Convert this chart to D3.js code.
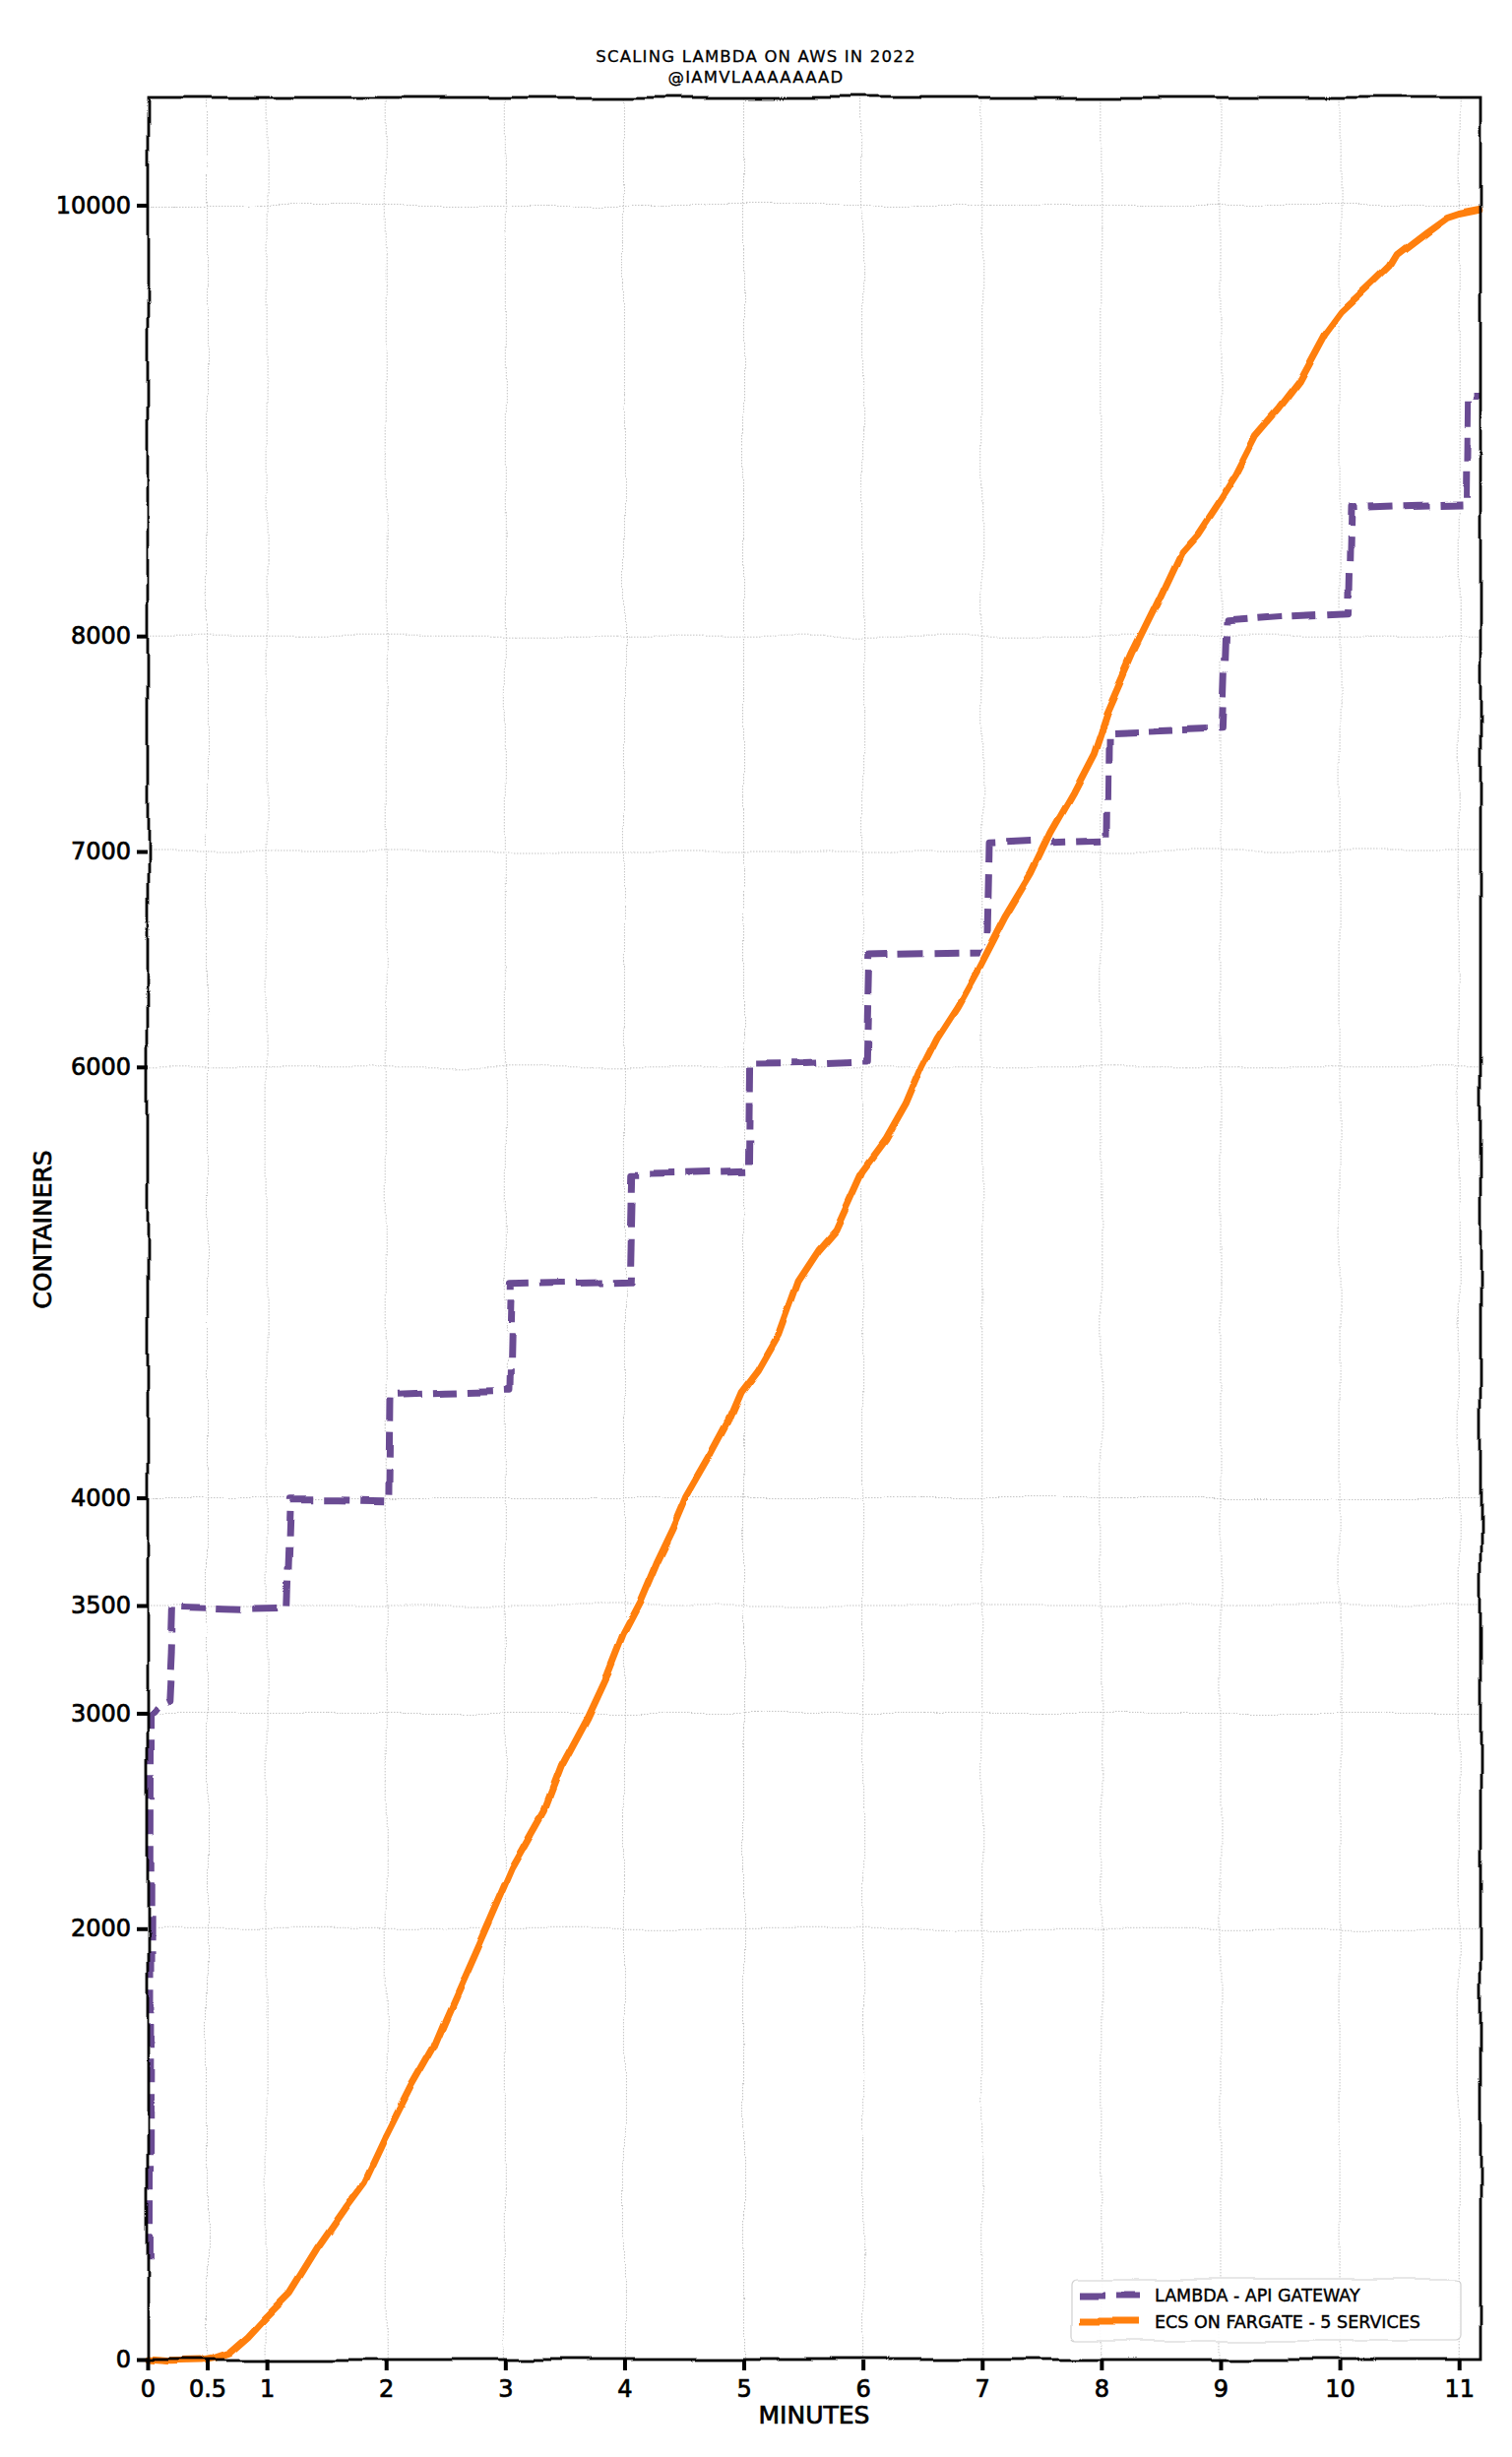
<!DOCTYPE html>
<html>
<head>
<meta charset="utf-8">
<script src="https://cdn.jsdelivr.net/npm/d3@7"></script>
<style>
  html, body { margin: 0; padding: 0; background: #fff; }
  svg { display: block; }
  text { font-family: "DejaVu Sans", sans-serif; fill: #000; }
  .heavy { stroke: #000; stroke-width: 0.7px; }
</style>
</head>
<body>
<svg id="chart" width="1536" height="2496"></svg>
<script>
// ---------------- data ----------------
const titleLines = ["SCALING LAMBDA ON AWS IN 2022", "@IAMVLAAAAAAAD"];
const xLabel = "MINUTES";
const yLabel = "CONTAINERS";
const seriesNames = ["LAMBDA - API GATEWAY", "ECS ON FARGATE - 5 SERVICES"];

const xTickValues = [0, 0.5, 1, 2, 3, 4, 5, 6, 7, 8, 9, 10, 11];
const xTickLabels = ["0", "0.5", "1", "2", "3", "4", "5", "6", "7", "8", "9", "10", "11"];
const yTickValues = [0, 2000, 3000, 3500, 4000, 6000, 7000, 8000, 10000];
const yTickLabels = ["0", "2000", "3000", "3500", "4000", "6000", "7000", "8000", "10000"];

const lambdaMinutes = [0.02, 0.03, 0.06, 0.10, 0.18, 0.20, 0.21, 0.8, 1.17, 1.20, 1.6, 2.03, 2.04, 2.5, 3.03, 3.05, 3.5, 4.04, 4.06, 4.5, 5.04, 5.05, 5.5, 6.03, 6.05, 6.5, 7.04, 7.06, 7.5, 8.05, 8.06, 8.5, 9.02, 9.05, 9.5, 10.07, 10.09, 10.5, 11.06, 11.07, 11.18];
const lambdaContainers = [460, 3000, 3010, 3040, 3060, 3300, 3495, 3485, 3490, 3995, 3995, 3989, 4480, 4490, 4500, 5000, 5005, 5011, 5500, 5505, 5514, 6013, 6015, 6027, 6525, 6530, 6534, 7035, 7045, 7055, 7550, 7560, 7572, 8070, 8090, 8107, 8596, 8605, 8614, 9113, 9113];

const ecsMinutes = [0, 0.2, 0.45, 0.55, 0.69, 0.85, 1.0, 1.19, 1.43, 1.66, 1.82, 1.99, 2.21, 2.40, 2.48, 2.87, 3.06, 3.33, 3.47, 3.69, 3.86, 3.99, 4.13, 4.27, 4.41, 4.52, 4.71, 4.87, 4.98, 5.12, 5.29, 5.45, 5.62, 5.78, 6.0, 6.19, 6.36, 6.5, 6.63, 6.8, 6.96, 7.19, 7.41, 7.57, 7.76, 7.93, 8.04, 8.26, 8.48, 8.67, 8.81, 9.0, 9.14, 9.3, 9.49, 9.66, 9.88, 10.02, 10.26, 10.42, 10.48, 10.73, 10.9, 11.0, 11.17];
const ecsContainers = [0, -8, -5, 5, 32, 110, 200, 306, 520, 703, 823, 1024, 1266, 1450, 1555, 2044, 2286, 2551, 2753, 2979, 3182, 3365, 3512, 3695, 3857, 4001, 4184, 4348, 4490, 4591, 4755, 5000, 5143, 5245, 5514, 5656, 5821, 6004, 6145, 6291, 6452, 6699, 6903, 7088, 7271, 7453, 7636, 7915, 8162, 8386, 8473, 8633, 8756, 8930, 9053, 9175, 9401, 9506, 9630, 9716, 9771, 9877, 9945, 9963, 9982];

// ---------------- layout ----------------
const W = 1536, H = 2496;
const L = 150, R = 1504, T = 99, B = 2397;
const purple = "#6a4c93", orange = "#ff7f0e";

const svg = d3.select("#chart");
const defs = svg.append("defs");
const f = defs.append("filter").attr("id", "xkcd")
  .attr("filterUnits", "userSpaceOnUse")
  .attr("x", 0).attr("y", 0).attr("width", W).attr("height", H);
f.append("feTurbulence").attr("type", "fractalNoise").attr("baseFrequency", 0.012)
  .attr("numOctaves", 2).attr("seed", 7).attr("result", "noise");
f.append("feDisplacementMap").attr("in", "SourceGraphic").attr("in2", "noise")
  .attr("scale", 9).attr("xChannelSelector", "R").attr("yChannelSelector", "G");

const x = d3.scaleLinear().domain([0, 11.18]).range([L, R]);
const y = d3.scaleLinear().domain([0, 10500]).range([B, T]);

const wig = svg.append("g").attr("filter", "url(#xkcd)");

// grid
const grid = wig.append("g").attr("stroke", "#c4c4c4").attr("stroke-width", 1).attr("stroke-dasharray", "1.5,1.5");
grid.selectAll("line.v").data(xTickValues).join("line").attr("class", "v")
  .attr("x1", d => x(d)).attr("x2", d => x(d)).attr("y1", T).attr("y2", B);
grid.selectAll("line.h").data(yTickValues).join("line").attr("class", "h")
  .attr("x1", L).attr("x2", R).attr("y1", d => y(d)).attr("y2", d => y(d));

// series
const lambdaData = lambdaMinutes.map((m, i) => [m, lambdaContainers[i]]);
const ecsData = ecsMinutes.map((m, i) => [m, ecsContainers[i]]);
const line = d3.line().x(d => x(d[0])).y(d => y(d[1]));
const dash = "25,11";
const LW = 7;

wig.append("path").attr("d", line(lambdaData)).attr("fill", "none")
  .attr("stroke", "#fff").attr("stroke-width", LW + 4).attr("stroke-dasharray", dash)
  .attr("stroke-linejoin", "round");
wig.append("path").attr("d", line(lambdaData)).attr("fill", "none")
  .attr("stroke", purple).attr("stroke-width", LW).attr("stroke-dasharray", dash)
  .attr("stroke-linejoin", "round");
wig.append("path").attr("d", line(ecsData)).attr("fill", "none")
  .attr("stroke", "#fff").attr("stroke-width", LW + 4).attr("stroke-linejoin", "round").attr("stroke-linecap", "round");
wig.append("path").attr("d", line(ecsData)).attr("fill", "none")
  .attr("stroke", orange).attr("stroke-width", LW).attr("stroke-linejoin", "round").attr("stroke-linecap", "round");

// frame
wig.append("rect").attr("x", L).attr("y", T).attr("width", R - L).attr("height", B - T)
  .attr("fill", "none").attr("stroke", "#000").attr("stroke-width", 2.8);

// legend
const lg = svg.append("g");
const lgBox = lg.append("g").attr("filter", "url(#xkcd)");
lgBox.append("rect").attr("x", 1089).attr("y", 2316).attr("width", 395).attr("height", 62)
  .attr("rx", 5).attr("fill", "#fff").attr("fill-opacity", 0.9)
  .attr("stroke", "#d0d0d0").attr("stroke-width", 1.2);
const lgItems = [
  { name: seriesNames[0], color: purple, dash: dash },
  { name: seriesNames[1], color: orange, dash: null }
];
lgItems.forEach((it, i) => {
  const yy = 2332 + i * 27;
  const ln = lgBox.append("line").attr("x1", 1097).attr("x2", 1157).attr("y1", yy).attr("y2", yy)
    .attr("stroke", it.color).attr("stroke-width", LW);
  if (it.dash) ln.attr("stroke-dasharray", it.dash);
  lg.append("text").attr("class", "heavy").attr("x", 1173).attr("y", yy).attr("dy", "0.36em")
    .attr("font-size", 17.5).style("stroke-width", "0.4px").text(it.name);
});

// axes (ticks + labels)
const xAxis = d3.axisBottom(x).tickValues(xTickValues)
  .tickFormat((d, i) => xTickLabels[i]).tickSize(11).tickPadding(10);
const yAxis = d3.axisLeft(y).tickValues(yTickValues)
  .tickFormat((d, i) => yTickLabels[i]).tickSize(11).tickPadding(6);
const gx = svg.append("g").attr("transform", `translate(0,${B})`).call(xAxis);
const gy = svg.append("g").attr("transform", `translate(${L},0)`).call(yAxis);
[gx, gy].forEach(g => {
  g.select(".domain").remove();
  g.selectAll(".tick line").attr("stroke", "#000").attr("stroke-width", 4);
  g.selectAll(".tick text").attr("class", "heavy")
    .attr("font-family", "DejaVu Sans, sans-serif").attr("font-size", 24).attr("fill", "#000");
  g.attr("font-family", null).attr("font-size", null);
});

// axis labels
svg.append("text").attr("class", "heavy").attr("x", 827).attr("y", 2462).attr("text-anchor", "middle")
  .attr("font-size", 25).text(xLabel);
svg.append("text").attr("class", "heavy").attr("transform", "translate(52,1249) rotate(-90)").attr("text-anchor", "middle")
  .attr("font-size", 25).text(yLabel);

// title
titleLines.forEach((t, i) => {
  svg.append("text").attr("class", "heavy").attr("x", 768).attr("y", 63 + i * 21).attr("text-anchor", "middle")
    .attr("font-size", 16.5).attr("letter-spacing", 1.2).style("stroke-width", "0.3px").text(t);
});
</script>
</body>
</html>
